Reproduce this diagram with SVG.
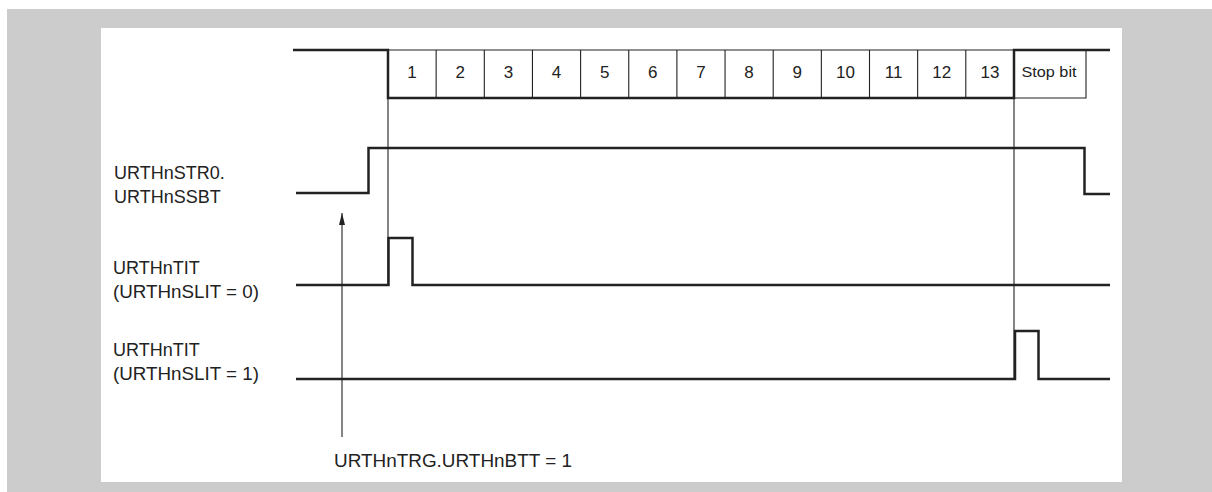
<svg xmlns="http://www.w3.org/2000/svg" width="1212" height="492" viewBox="0 0 1212 492">
<defs>
<style>
.sig{fill:none;stroke:#222;stroke-width:2.5;stroke-linejoin:miter;stroke-linecap:butt}
.thin{fill:none;stroke:#222;stroke-width:1.1}
.lbl{font-family:"Liberation Sans",Arial,sans-serif;font-size:18px;fill:#222}
.num{font-family:"Liberation Sans",Arial,sans-serif;font-size:17px;fill:#222;text-anchor:middle}
.sb{font-family:"Liberation Sans",Arial,sans-serif;font-size:15px;fill:#222;text-anchor:middle}
</style>
<marker id="ah" markerWidth="12" markerHeight="6" refX="12" refY="3" orient="auto" markerUnits="userSpaceOnUse" viewBox="0 0 12 6">
<path d="M0,0 L12,3 L0,6 Z" fill="#222"/>
</marker>
</defs>
<rect x="0" y="0" width="1212" height="492" fill="#ffffff"/>
<rect x="7" y="9" width="1205" height="483" fill="#cccccc"/>
<rect x="101" y="28" width="1021" height="454" fill="#ffffff"/>

<g id="frame">
<path class="thin" d="M388,50 H1086 V98 H1014"/>
<path class="thin" d="M436.15,50 V98 M484.3,50 V98 M532.45,50 V98 M580.6,50 V98 M628.75,50 V98 M676.9,50 V98 M725.05,50 V98 M773.2,50 V98 M821.35,50 V98 M869.5,50 V98 M917.65,50 V98 M965.8,50 V98"/>
<text class="num" x="412.1" y="78">1</text>
<text class="num" x="460.2" y="78">2</text>
<text class="num" x="508.4" y="78">3</text>
<text class="num" x="556.5" y="78">4</text>
<text class="num" x="604.7" y="78">5</text>
<text class="num" x="652.8" y="78">6</text>
<text class="num" x="701" y="78">7</text>
<text class="num" x="749.1" y="78">8</text>
<text class="num" x="797.3" y="78">9</text>
<text class="num" x="845.4" y="78">10</text>
<text class="num" x="893.6" y="78">11</text>
<text class="num" x="941.7" y="78">12</text>
<text class="num" x="989.9" y="78">13</text>
<text class="sb" x="1049" y="77" textLength="55" lengthAdjust="spacingAndGlyphs">Stop bit</text>
</g>

<g id="txd">
<path class="sig" d="M293,50 H388 V98 H1014 V50 H1110"/>
</g>

<g id="ssbt">
<text class="lbl" x="114" y="179">URTHnSTR0.</text>
<text class="lbl" x="114" y="203">URTHnSSBT</text>
<path class="sig" d="M296,193 H368.5 V148 H1084.5 V194 H1110"/>
</g>

<g id="tit0">
<text class="lbl" x="113" y="274">URTHnTIT</text>
<text class="lbl" x="113" y="298" textLength="146" lengthAdjust="spacingAndGlyphs">(URTHnSLIT = 0)</text>
<path class="sig" d="M296,285 H388.5 V238 H412.5 V285 H1110"/>
</g>

<g id="tit1">
<text class="lbl" x="113" y="356">URTHnTIT</text>
<text class="lbl" x="113" y="380" textLength="146" lengthAdjust="spacingAndGlyphs">(URTHnSLIT = 1)</text>
<path class="sig" d="M296,379 H1015 V331 H1038.5 V379 H1110"/>
</g>

<g id="trigger">
<text class="lbl" x="334" y="467" textLength="238" lengthAdjust="spacingAndGlyphs">URTHnTRG.URTHnBTT = 1</text>
</g>

<g id="connectors">
<line class="thin" x1="388" y1="98" x2="388" y2="285"/>
<line class="thin" x1="1014" y1="98" x2="1014" y2="379"/>
<line class="thin" x1="342" y1="437" x2="342" y2="213" marker-end="url(#ah)"/>
</g>
</svg>
